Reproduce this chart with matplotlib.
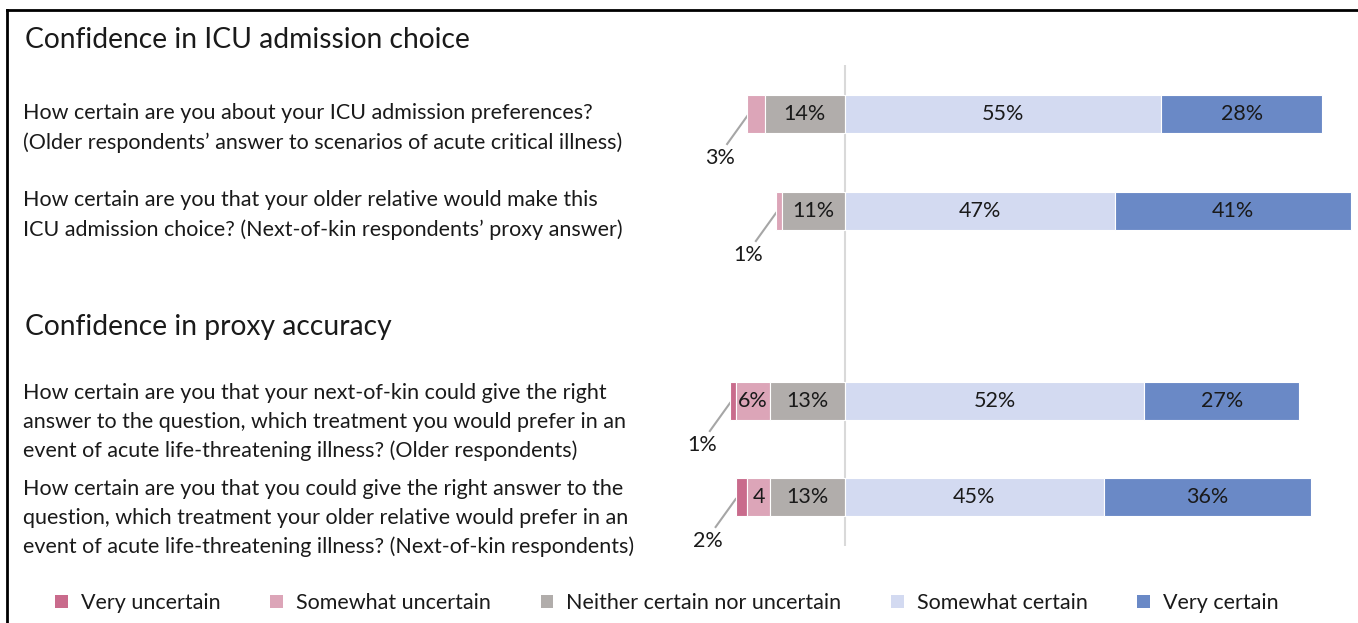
import matplotlib.pyplot as plt
from matplotlib.patches import Patch
from matplotlib.lines import Line2D

plt.rcParams['font.family'] = ['Lato', 'DejaVu Sans']

# ---------- data ----------
categories = ["Very uncertain", "Somewhat uncertain", "Neither certain nor uncertain",
              "Somewhat certain", "Very certain"]
colors = ["#c96b8c", "#dca5b8", "#b1adab", "#d3daf1", "#6a89c6"]

questions = [
    "How certain are you about your ICU admission preferences?\n"
    "(Older respondents\u2019 answer to scenarios of acute critical illness)",
    "How certain are you that your older relative would make this\n"
    "ICU admission choice? (Next-of-kin respondents\u2019 proxy answer)",
    "How certain are you that your next-of-kin could give the right\n"
    "answer to the question, which treatment you would prefer in an\n"
    "event of acute life-threatening illness? (Older respondents)",
    "How certain are you that you could give the right answer to the\n"
    "question, which treatment your older relative would prefer in an\n"
    "event of acute life-threatening illness? (Next-of-kin respondents)",
]
sections = ["Confidence in ICU admission choice", "Confidence in proxy accuracy"]

very_unc = [0, 0, 1, 2]
some_unc = [3, 1, 6, 4]
neither = [14, 11, 13, 13]
some_cert = [55, 47, 52, 45]
very_cert = [28, 41, 27, 36]

seg_labels = [
    ["", "", "14%", "55%", "28%"],
    ["", "", "11%", "47%", "41%"],
    ["", "6%", "13%", "52%", "27%"],
    ["", "4", "13%", "45%", "36%"],
]
callouts = ["3%", "1%", "1%", "2%"]

# ---------- layout (pixels) ----------
W, H = 1358, 623
x0, pxu = 845, 5.75          # zero line position, pixels per percent
row_y = [114, 211, 401, 497]
q_y = [128, 215, 422, 518]
sec_y = [40, 327]
bar_h = 38
fs = 15.5

fig = plt.figure(figsize=(W / 100, H / 100), dpi=100)
ax = fig.add_axes([0, 0, 1, 1])
ax.set_xlim(-x0 / pxu, (W - x0) / pxu)
ax.set_ylim(H, 0)
ax.axis('off')

ax.vlines(0, 65, 546, color="#d9d9d9", lw=1.5, zorder=0)

for i, y in enumerate(row_y):
    neg = [very_unc[i], some_unc[i], neither[i]]
    pos = [some_cert[i], very_cert[i]]
    left = -sum(neg)
    starts = []
    for v in neg + pos:
        starts.append(left)
        left += v
    vals = neg + pos
    for j, (s, v) in enumerate(zip(starts, vals)):
        if v <= 0:
            continue
        ax.barh(y, v, left=s, height=bar_h, color=colors[j],
                edgecolor="white", linewidth=0.8, zorder=2)
        if seg_labels[i][j]:
            ax.text(s + v / 2, y, seg_labels[i][j], ha="center", va="center",
                    fontsize=fs, color="#1a1a1a", zorder=3)
    # callout for the smallest segment
    l = starts[0] if very_unc[i] > 0 else starts[1]
    ax.plot([l, l - 3.5], [y + 2, y + 30], color="#a6a6a6", lw=1.5, zorder=1)
    ax.text(l - 4.8, y + 44, callouts[i], ha="center", va="center",
            fontsize=fs, color="#1a1a1a")

for q, y in zip(questions, q_y):
    fig.text(23 / W, 1 - y / H, q, ha="left", va="center", fontsize=fs,
             linespacing=1.55, color="#1a1a1a")
for s, y in zip(sections, sec_y):
    fig.text(25 / W, 1 - y / H, s, ha="left", va="center", fontsize=20.3,
             color="#1a1a1a")

# frame (top and left edges only)
fig.add_artist(Line2D([7 / W, 1], [1 - 10 / H] * 2, transform=fig.transFigure,
                      color="black", lw=2))
fig.add_artist(Line2D([7 / W] * 2, [0, 1 - 10 / H], transform=fig.transFigure,
                      color="black", lw=2))

handles = [Patch(facecolor=c, label=n) for c, n in zip(colors, categories)]
fig.legend(handles=handles, loc="center", bbox_to_anchor=(667 / W, 1 - 603 / H),
           ncol=5, frameon=False, fontsize=fs, handlelength=0.6, handleheight=0.6,
           handletextpad=0.6, columnspacing=2.3, labelcolor="#1a1a1a")

fig.savefig("out.png", dpi=100)
